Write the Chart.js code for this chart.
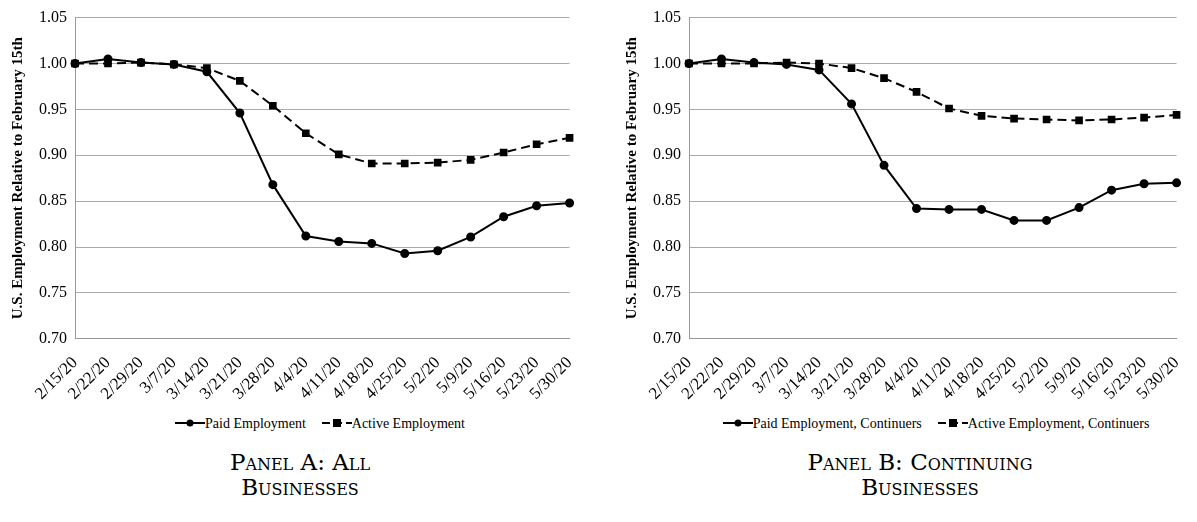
<!DOCTYPE html>
<html><head><meta charset="utf-8">
<script src="https://cdn.jsdelivr.net/npm/chart.js@4.4.0/dist/chart.umd.min.js"></script>
<style>
body{margin:0;background:#fff;width:1197px;height:522px;overflow:hidden;font-family:"Liberation Serif",serif}
.panel{position:absolute;top:0}
.cv{position:relative;height:410px}
.leg{position:absolute;top:416px;left:0;right:0;text-align:center;font-size:14px;white-space:nowrap}
.leg span{margin:0 8px}
.cap{position:absolute;top:450px;text-align:center;font-family:"DejaVu Serif",serif;font-variant:small-caps;font-size:23px;line-height:25px}
</style></head><body>
<div class="panel" style="left:0;width:590px"><div class="cv"><canvas id="a"></canvas></div>
<div class="leg" style="left:50px"><span><svg width="30" height="10"><line x1="0" y1="5" x2="30" y2="5" stroke="#000" stroke-width="2"/><circle cx="15" cy="5" r="3.5"/></svg>Paid Employment</span><span><svg width="30" height="10"><line x1="0" y1="5" x2="30" y2="5" stroke="#000" stroke-width="2" stroke-dasharray="8,4"/><rect x="11" y="1" width="8" height="8"/></svg>Active Employment</span></div>
<div class="cap" style="left:160px;width:280px">Panel A: All<br>Businesses</div></div>
<div class="panel" style="left:605px;width:592px"><div class="cv"><canvas id="b"></canvas></div>
<div class="leg" style="left:70px"><span><svg width="30" height="10"><line x1="0" y1="5" x2="30" y2="5" stroke="#000" stroke-width="2"/><circle cx="15" cy="5" r="3.5"/></svg>Paid Employment, Continuers</span><span><svg width="30" height="10"><line x1="0" y1="5" x2="30" y2="5" stroke="#000" stroke-width="2" stroke-dasharray="8,4"/><rect x="11" y="1" width="8" height="8"/></svg>Active Employment, Continuers</span></div>
<div class="cap" style="left:165px;width:300px">Panel B: Continuing<br>Businesses</div></div>
<script>
const dates=["2/15/20","2/22/20","2/29/20","3/7/20","3/14/20","3/21/20","3/28/20","4/4/20","4/11/20","4/18/20","4/25/20","5/2/20","5/9/20","5/16/20","5/23/20","5/30/20"];
const paidA=[1.000,1.005,1.001,0.999,0.991,0.946,0.868,0.812,0.806,0.804,0.793,0.796,0.811,0.833,0.845,0.848];
const activeA=[1.000,1.000,1.001,0.999,0.995,0.981,0.954,0.924,0.901,0.891,0.891,0.892,0.895,0.903,0.912,0.919];
const paidB=[1.000,1.005,1.001,0.999,0.993,0.956,0.889,0.842,0.841,0.841,0.829,0.829,0.843,0.862,0.869,0.870];
const activeB=[1.000,1.000,1.000,1.001,1.000,0.995,0.984,0.969,0.951,0.943,0.940,0.939,0.938,0.939,0.941,0.944];
function make(id,p,a,pl,pr){
 new Chart(document.getElementById(id),{type:'line',
 data:{labels:dates,datasets:[
  {data:p,borderColor:'#000',backgroundColor:'#000',borderWidth:2,pointStyle:'circle',pointRadius:3.5,tension:0},
  {data:a,borderColor:'#000',backgroundColor:'#000',borderWidth:2,borderDash:[9,5],pointStyle:'rect',pointRadius:4,tension:0}]},
 options:{responsive:true,maintainAspectRatio:false,animation:false,
  layout:{padding:{top:6,right:pr,left:pl,bottom:0}},
  plugins:{legend:{display:false},tooltip:{enabled:false}},
  scales:{x:{offset:false,grid:{display:false,drawTicks:true},border:{color:'#999'},
    ticks:{color:'#000',font:{family:'Liberation Serif',size:17},maxRotation:45,minRotation:45,autoSkip:false,padding:6}},
   y:{min:0.70,max:1.05,grid:{color:'#aaa',drawTicks:false},border:{color:'#999'},
    ticks:{stepSize:0.05,color:'#000',padding:8,font:{family:'Liberation Serif',size:16},callback:v=>v.toFixed(2)},
    title:{display:true,text:'U.S. Employment Relative to February 15th',color:'#000',font:{family:'Liberation Serif',size:15,weight:'bold'}}}}}});
}
make('a',paidA,activeA,5,2);make('b',paidB,activeB,14,4);
</script></body></html>
